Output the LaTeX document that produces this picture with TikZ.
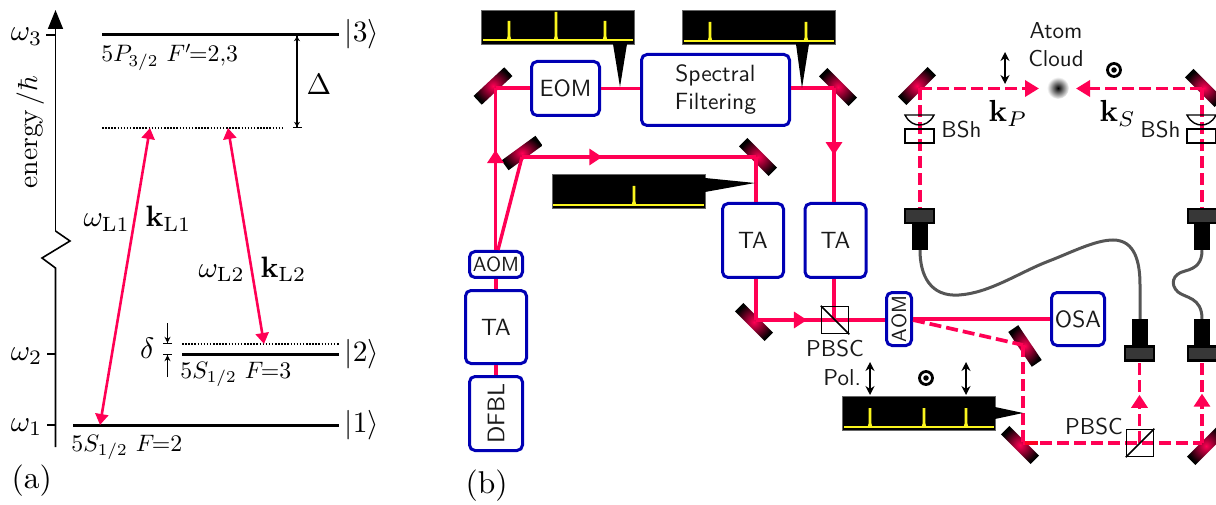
\documentclass[tikz,border=0pt]{standalone}
\usepackage{amsmath}
\usepackage{graphicx}
\usetikzlibrary{arrows.meta,decorations.markings}
\definecolor{laser}{RGB}{255,0,84}
\definecolor{boxblue}{RGB}{0,0,180}
\definecolor{fibgray}{RGB}{85,85,85}
\definecolor{headgray}{RGB}{55,55,55}
\definecolor{specy}{RGB}{250,245,30}
\newcommand{\specpk}[3]{\fill[specy] (#1-2.4,#3) -- (#1-1.3,#3-4) -- (#1-1.3,#2) -- (#1+1.3,#2) -- (#1+1.3,#3-4) -- (#1+2.4,#3) -- cycle;}
\newcommand{\btx}[1]{\scalebox{2.35}{\sffamily #1}}
\newcommand{\bty}[1]{\scalebox{2.05}{\sffamily #1}}
\tikzset{
  level/.style={line width=3pt,line cap=butt},
  dotlevel/.style={line width=1.5pt,dash pattern=on 1.5pt off 1.6pt},
  axisline/.style={line width=1.6pt},
  tran/.style={laser,line width=2.6pt,{Triangle[length=11pt,width=13pt]}-{Triangle[length=11pt,width=13pt]}},
  dimline/.style={line width=1.4pt,{Bar[width=9pt,line width=1.2pt]Stealth[length=5pt,width=6pt,sep=0pt]}-{Stealth[length=5pt,width=6pt,sep=0pt]Bar[width=9pt,line width=1.2pt]}},
  detarrow/.style={line width=1.4pt,-{Stealth[length=6pt,width=6pt,sep=0pt]Bar[width=9pt,line width=1.2pt]}},
  mlab/.style={inner sep=0pt,scale=2.95},
  biglab/.style={inner sep=0pt,scale=3.15},
  klab/.style={inner sep=0pt,scale=3.05},
  slab/.style={inner sep=0pt,scale=2.38},
  sf/.style={inner sep=0pt,scale=2.3,font=\sffamily,text=black!90},
  blok/.style={draw=boxblue,line width=3pt,rounded corners=5.5pt,inner sep=0pt,text=black!90},
  beam/.style={laser,line width=3.4pt},
  dbeam/.style={laser,line width=3.7pt,dash pattern=on 12pt off 5pt},
  midarrow/.style={postaction={decorate,decoration={markings,mark=at position #1 with {\arrow{Triangle[length=13pt,width=16pt]}}}}},
  mirrorbar/.style={minimum width=42pt,minimum height=12pt,inner sep=0pt,inner color=laser,outer color=black},
  cubebox/.style={draw=black,line width=1.5pt,minimum width=27pt,minimum height=27pt,inner sep=0pt},
  specbox/.style={fill=black,draw=black!60,line width=.7pt,inner sep=0pt,minimum width=153pt,minimum height=34pt},
  fibre/.style={fibgray,line width=3pt},
  fibbody/.style={fill=black,inner sep=0pt,minimum width=16pt,minimum height=26pt},
  fibhead/.style={fill=headgray,draw=black,line width=2.4pt,inner sep=0pt,minimum width=29pt,minimum height=14pt},
  pol/.style={line width=1.6pt,{Stealth[length=9pt,width=9pt]}-{Stealth[length=9pt,width=9pt]}},
  bshpart/.style={draw=black,line width=1.4pt},
  polcircle/.style={circle,draw=black,line width=2.8pt,minimum size=13pt,inner sep=0pt},
  poldot/.style={circle,fill=black,minimum size=5.5pt,inner sep=0pt}
}
\begin{document}
\begin{tikzpicture}[x=1pt,y=-1pt]
\useasboundingbox (0,0) rectangle (1216,505);
% ---------- panel (a)
\coordinate (axtop) at (55.5,10);
\draw[axisline,-{Triangle[length=19pt,width=15pt]}] (55.5,231) -- (axtop);
\draw[axisline] (55.5,231) -- (70,241) -- (42,258) -- (55.5,268) -- (55.5,447);
\draw[axisline] (46,35) -- (55.5,35);
\draw[axisline] (47,354) -- (55.5,354);
\draw[axisline] (47,425) -- (55.5,425);
\node[mlab,anchor=base east] (w3) at (43,41) {$\omega_3$};
\node[mlab,anchor=base east] (w2) at (43,360) {$\omega_2$};
\node[mlab,anchor=base east] (w1) at (43,431) {$\omega_1$};
\node[inner sep=0pt,scale=2.75,anchor=base,rotate=90] (en) at (37,132) {energy$\,/\hbar$};
\coordinate (l3a) at (102,35);   \coordinate (l3b) at (339,35);
\coordinate (dla) at (102,128);  \coordinate (dlb) at (283,128);
\coordinate (l2a) at (182,354);  \coordinate (l2b) at (339,354);
\coordinate (d2a) at (182,344);  \coordinate (d2b) at (339,344);
\coordinate (l1a) at (73,425);   \coordinate (l1b) at (339,425);
\draw[level] (l3a) -- (l3b);
\draw[level] (l2a) -- (l2b);
\draw[level] (l1a) -- (l1b);
\draw[dotlevel] (dla) -- (dlb);
\draw[dotlevel] (d2a) -- (d2b);
\node[mlab,anchor=base west] (k3) at (344,42) {$|3\rangle$};
\node[mlab,anchor=base west] (k2) at (344,361) {$|2\rangle$};
\node[mlab,anchor=base west] (k1) at (344,432) {$|1\rangle$};
\node[slab,anchor=base west] (t3) at (101,62) {$5P_{3/2}\;\mkern1muF'\mkern-2mu{=}2{,}3$};
\node[slab,anchor=base west] (t2) at (180,378) {$5S_{1/2}\;\mkern1muF\mkern-2mu{=}3$};
\node[slab,anchor=base west] (t1) at (71,451) {$5S_{1/2}\;\mkern1muF\mkern-2mu{=}2$};
\coordinate (da) at (297,35); \coordinate (db) at (297,128);
\draw[dimline] (da) -- (db);
\node[mlab,anchor=base west] (Dl) at (306,95) {$\Delta$};
\coordinate (up1) at (167.5,323); \coordinate (up2) at (167.5,344);
\coordinate (lo1) at (167.5,377); \coordinate (lo2) at (167.5,354);
\draw[detarrow] (up1) -- (up2);
\draw[detarrow] (lo1) -- (lo2);
\node[mlab,anchor=base east] (dl) at (155,358) {$\delta$};
\coordinate (p1top) at (150,128); \coordinate (p1bot) at (100,425);
\coordinate (p2top) at (228,128); \coordinate (p2bot) at (264,344);
\draw[tran] (p1top) -- (p1bot);
\draw[tran] (p2top) -- (p2bot);
\node[mlab,anchor=base west] (wl1) at (83,227) {$\omega_{\mathrm{L}1}$};
\node[mlab,anchor=base west] (kl1) at (145,227) {$\mathbf{k}_{\mathrm{L}1}$};
\node[mlab,anchor=base west] (wl2) at (198,277) {$\omega_{\mathrm{L}2}$};
\node[mlab,anchor=base west] (kl2) at (260,277) {$\mathbf{k}_{\mathrm{L}2}$};
\node[biglab,anchor=base west] (pa) at (11,488) {(a)};
\node[biglab,anchor=base west] (pb) at (465,493) {(b)};
% ---------- panel (b): boxes
\node[blok,rotate=90,minimum width=74pt,minimum height=53pt] (dfbl) at (496,413.5) {\scalebox{2.4}{\sffamily DFBL}};
\node[blok,minimum width=61pt,minimum height=73pt] (ta1) at (496,327) {\btx{TA}};
\node[blok,minimum width=53pt,minimum height=26pt] (aom1) at (496,264.5) {\bty{AOM}};
\node[blok,minimum width=68pt,minimum height=54pt] (eom) at (565.5,88.5) {\btx{EOM}};
\node[blok,minimum width=148pt,minimum height=71pt] (spf) at (715.5,90) {\btx{\begin{tabular}{@{}c@{}}Spectral\\Filtering\end{tabular}}};
\node[blok,minimum width=61pt,minimum height=74pt] (ta2) at (753,240.5) {\btx{TA}};
\node[blok,minimum width=61pt,minimum height=74pt] (ta3) at (835.5,240.5) {\btx{TA}};
\node[blok,rotate=90,minimum width=53pt,minimum height=25pt] (aom2) at (899,319) {\bty{AOM}};
\node[blok,minimum width=53pt,minimum height=53pt] (osa) at (1078,319) {\btx{OSA}};
% mirrors
\node[mirrorbar,rotate=43] (m1) at (493,86) {};
\node[mirrorbar,rotate=36] (m2) at (522,153) {};
\node[mirrorbar,rotate=-45] (m3) at (758,157) {};
\node[mirrorbar,rotate=-45] (m4) at (838,87) {};
\node[mirrorbar,rotate=-45] (m5) at (754,322) {};
\node[mirrorbar,rotate=45] (m6) at (917,86) {};
\node[mirrorbar,rotate=-45] (m7) at (1204,88) {};
\node[mirrorbar,rotate=-56] (m8) at (1025,346) {};
\node[mirrorbar,rotate=-45] (m9) at (1020,445) {};
\node[mirrorbar,rotate=45] (m10) at (1206,446) {};
% beam corner points
\coordinate (c1) at (495.5,88);
\coordinate (c2) at (522,157);
\coordinate (c3) at (756,157);
\coordinate (c4) at (834,88);
\coordinate (c5) at (756,320);
\coordinate (c6) at (920,88.5);
\coordinate (c7) at (1202,88.5);
\coordinate (c8) at (1023,345);
\coordinate (c9) at (1023,443);
\coordinate (c10) at (1202,443);
\coordinate (cAOM) at (913,320);
\coordinate (tipP) at (1039,88.5);
\coordinate (tipS) at (1076,88.5);
\coordinate (t3b) at (834,320);
% solid beams
\draw[beam] (dfbl.east) -- (ta1.south);
\draw[beam] (ta1.north) -- (aom1.south);
\draw[beam,midarrow=.617] (aom1.north -| c1) -- (c1);
\draw[beam] (498,250) -- (c2);
\draw[beam] (c1) -- (c1 -| eom.west);
\draw[beam] (eom.east) -- (eom.east -| spf.west);
\draw[beam] (spf.east |- c4) -- (c4);
\draw[beam,midarrow=.588] (c4) -- (c4 |- ta3.north);
\draw[beam,midarrow=.343] (c2) -- (c3);
\draw[beam] (c3) -- (c3 |- ta2.north);
\draw[beam] (c3 |- ta2.south) -- (c5);
\draw[beam,midarrow=.395] (c5) -- (c5 -| aom2.north);
\draw[beam] (t3b |- ta3.south) -- (t3b);
\draw[beam] (aom2.south |- osa.west) -- (osa.west);
% dashed beams
\draw[dbeam] (cAOM) -- (c8);
\draw[dbeam] (c8) -- (c9);
\draw[dbeam] (c9) -- (c10);
\draw[laser!40!red,line width=3.7pt] (1025,443) -- (1038,443);
% fibre couplers
\node[fibhead] (fh1) at (919.5,216) {};
\node[fibbody] (fb1) at (920,237) {};
\node[fibhead] (fh2) at (1202.5,216) {};
\node[fibbody] (fb2) at (1202,237) {};
\node[fibhead] (fh3) at (1139.5,353.5) {};
\node[fibbody] (fb3) at (1140,332) {};
\node[fibhead] (fh4) at (1202.5,353.5) {};
\node[fibbody] (fb4) at (1202,332) {};
\draw[fibre] (fb1.south) .. controls (920,275) and (930,297) .. (959,295) .. controls (990,293) and (1020,272) .. (1049,261) .. controls (1070,253) and (1095,240) .. (1113,240) .. controls (1135,240) and (1140,262) .. (1140,285) -- (fb3.north);
\draw[fibre] (fb2.south) .. controls (1202,262) and (1197,268) .. (1185,271) .. controls (1172,274) and (1170,285) .. (1178,292) .. controls (1185,298) and (1202,297) .. (fb4.north);
\draw[dbeam,midarrow=.593] (c10 -| fh3.south) -- (fh3.south);
\draw[dbeam,midarrow=.607] (c10) -- (c10 |- fh4.south);
\draw[dbeam,-{Triangle[length=14pt,width=16pt]}] (c6) -- (tipP);
\draw[dbeam,-{Triangle[length=14pt,width=16pt]}] (c7) -- (tipS);
\draw[dbeam] (c6) -- (c6 |- fh1.north);
\draw[dbeam] (c7) -- (c7 |- fh2.north);
% cubes
\node[cubebox] (pb1) at (835,320) {};
\draw[line width=1.5pt] (pb1.north west) -- (pb1.south east);
\node[cubebox] (pb2) at (1140,443) {};
\draw[line width=1.5pt] (pb2.south west) -- (pb2.north east);
\node[sf] (pbl1) at (835,349) {PBSC};
\node[sf] (pbl2) at (1094,427) {PBSC};
\node[sf,anchor=west] (poll) at (823,378) {Pol.};
% beam shapers
\draw[bshpart] (905,115) .. controls (909,123) and (915,125) .. (919.5,125) .. controls (924,125) and (930,123) .. (934,115) -- cycle;
\draw[bshpart] (905,129) rectangle (934,143);
\draw[bshpart] (1187,115) .. controls (1191,123) and (1197,125) .. (1201.5,125) .. controls (1206,125) and (1212,123) .. (1216,115) -- cycle;
\draw[bshpart] (1187,129) rectangle (1216,143);
\node[sf,anchor=west] (bsh1) at (941,130) {BSh};
\node[sf,anchor=west] (bsh2) at (1140,130) {BSh};
% atom cloud
\node[circle,minimum size=22pt,inner sep=0pt,inner color=black,outer color=white] (cloud) at (1058,88) {};
\node[sf] (atoml) at (1056,31) {Atom};
\node[sf] (cloudl) at (1056,59) {Cloud};
\node[klab,anchor=base west] (kp) at (988,122) {$\mathbf{k}_P$};
\node[klab,anchor=base west] (ks) at (1099,122) {$\mathbf{k}_S$};
% polarisation marks
\coordinate (pa1) at (1005,52); \coordinate (pa2) at (1005,84);
\draw[pol] (pa1) -- (pa2);
\node[polcircle] (pc1) at (1114,70) {};
\node[poldot] at (pc1) {};
\coordinate (pb1a) at (870,362); \coordinate (pb1b) at (870,395);
\draw[pol] (pb1a) -- (pb1b);
\coordinate (pb2a) at (966,362); \coordinate (pb2b) at (966,395);
\draw[pol] (pb2a) -- (pb2b);
\node[polcircle] (pc2) at (926,378) {};
\node[poldot] at (pc2) {};
% spectra
\node[specbox] (s1) at (557.5,27) {};
\fill (613,44) -- (627,44) -- (620,87) -- cycle;
\draw[specy,line width=2pt] (483,40) -- (633,40);
\specpk{509}{21}{40}\specpk{556}{12}{40}\specpk{605}{21}{40}
\node[specbox] (s2) at (759,27) {};
\fill (796,44) -- (809,44) -- (802,88) -- cycle;
\draw[specy,line width=2pt] (684,41) -- (834,41);
\specpk{710}{22}{41}\specpk{806}{22}{41}
\node[specbox] (s3) at (628.5,191.5) {};
\fill (705,178) -- (705,192) -- (755,183) -- cycle;
\draw[specy,line width=2pt] (553,205) -- (704,205);
\specpk{634}{186}{205}
\node[specbox] (s4) at (919,413.5) {};
\fill (995,407) -- (995,419) -- (1023,413) -- cycle;
\draw[specy,line width=2pt] (844,427) -- (994,427);
\specpk{870}{408}{427}\specpk{924}{408}{427}\specpk{966}{408}{427}
\end{tikzpicture}
\end{document}
